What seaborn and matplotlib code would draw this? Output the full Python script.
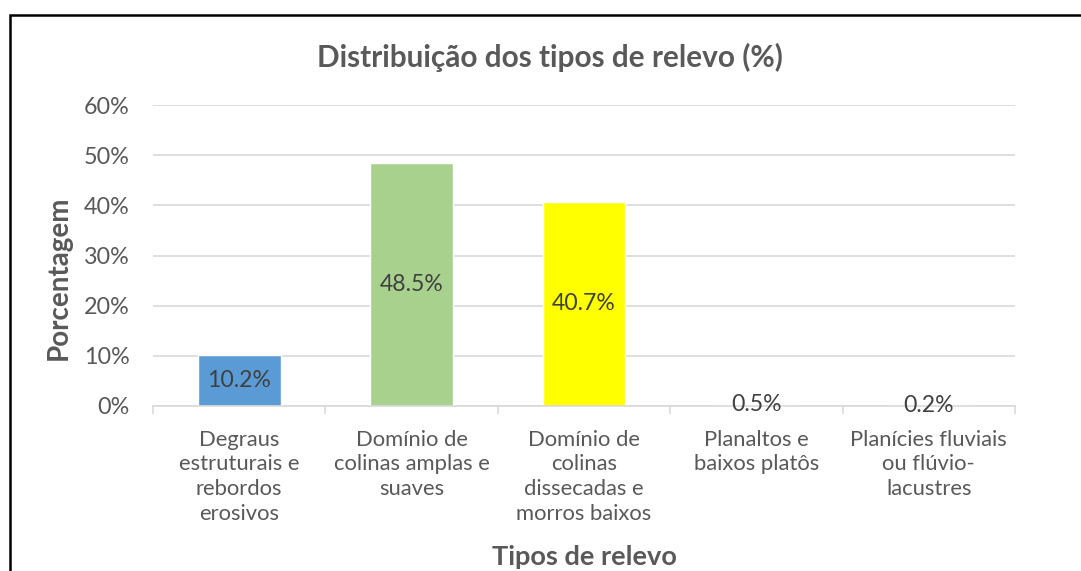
import matplotlib
matplotlib.use('Agg')
import matplotlib.pyplot as plt
import seaborn as sns
import pandas as pd
from matplotlib.patches import Rectangle
from matplotlib.ticker import PercentFormatter, FixedLocator

categorias = ['Degraus\nestruturais e\nrebordos\nerosivos',
              'Domínio de\ncolinas amplas e\nsuaves',
              'Domínio de\ncolinas\ndissecadas e\nmorros baixos',
              'Planaltos e\nbaixos platôs',
              'Planícies fluviais\nou flúvio-\nlacustres']
valores = [10.2, 48.5, 40.7, 0.5, 0.2]
# as duas ultimas barras quase nao aparecem no original
cores = ['#5B9BD5', '#A9D18E', '#FFFF00', '#FFFFFF', '#FFFFFF']
yticks = [0, 10, 20, 30, 40, 50, 60]

df = pd.DataFrame({'tipo': categorias, 'pct': valores})

sns.set_theme(style='white')
plt.rcParams['font.family'] = ['Lato', 'DejaVu Sans']

fig = plt.figure(figsize=(10.81, 5.71), dpi=100)
ax = fig.add_axes([153/1081, 1-406/571, (1015-153)/1081, (406-105)/571])

sns.barplot(data=df, x='tipo', y='pct', hue='tipo', palette=cores,
            legend=False, width=0.48, saturation=1, ax=ax)

ax.set_ylim(0, 60)
ax.set_xlim(-0.5, len(categorias) - 0.5)
ax.set_yticks(yticks)
ax.yaxis.set_major_formatter(PercentFormatter(decimals=0))
ax.grid(axis='y', color='#D9D9D9', linewidth=1.2)
ax.set_axisbelow(True)
for s in ['top', 'right', 'left']:
    ax.spines[s].set_visible(False)
ax.spines['bottom'].set_color('#D9D9D9')
ax.spines['bottom'].set_linewidth(1.2)

ax.tick_params(axis='y', length=0, labelsize=16.8, labelcolor='#595959', pad=17)
ax.tick_params(axis='x', which='major', length=0, labelsize=15.8, labelcolor='#595959', pad=17)
for lab in ax.get_xticklabels():
    lab.set_linespacing(1.3)
ax.xaxis.set_minor_locator(FixedLocator([i - 0.5 for i in range(len(categorias) + 1)]))
ax.tick_params(axis='x', which='minor', length=6, width=1.2, color='#D9D9D9', bottom=True)

for i, v in enumerate(valores):
    ax.text(i, v / 2, f'{v:.1f}%', ha='center', va='center', fontsize=16.6, color='#404040')

ax.set_xlabel('Tipos de relevo', fontsize=19.5, fontweight='bold', color='#595959')
ax.xaxis.set_label_coords(0.5, -0.462)
ax.set_ylabel('Porcentagem', fontsize=20, fontweight='bold', color='#595959')
ax.yaxis.set_label_coords(-0.094, 0.427)

fig.text(550/1081, 1-57/571, 'Distribuição dos tipos de relevo (%)', ha='center', va='center',
         fontsize=21.4, fontweight='bold', color='#595959')

fig.patches.append(Rectangle((9.5/1081, -0.1), 1.2, 1.1 - 14.5/571, transform=fig.transFigure,
                             fill=False, edgecolor='black', linewidth=1.8))

fig.savefig('out.png', dpi=100)
